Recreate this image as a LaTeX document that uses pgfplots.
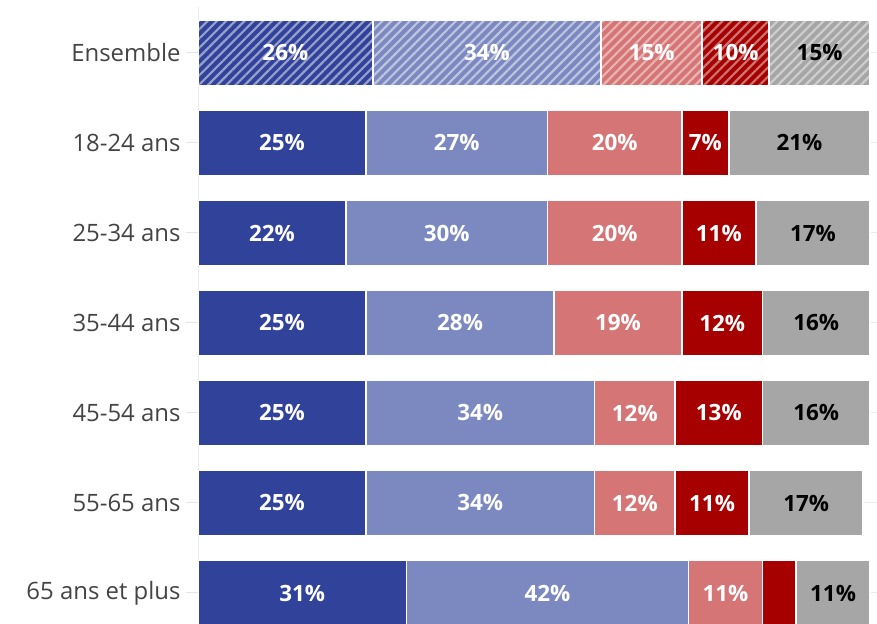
\documentclass[border=0pt]{standalone}
\usepackage{pgfplots}
\pgfplotsset{compat=1.18}
\usepackage{pgfplotstable}
\usetikzlibrary{patterns.meta}
\usepackage{fontspec}
\setmainfont{Open Sans}
\definecolor{cA}{HTML}{30429A}
\definecolor{cB}{HTML}{7C89C0}
\definecolor{cC}{HTML}{D57575}
\definecolor{cD}{HTML}{A60000}
\definecolor{cE}{HTML}{A6A6A6}
\definecolor{lab}{HTML}{444444}

\pgfplotstableread{
y a b c d e
5 25 27 20 7 21
4 22 30 20 11 17
3 25 28 19 12 16
2 25 34 12 13 16
1 25 34 12 11 17
0 31 42 11 5 11
}\ages
\pgfplotstableread{
y a b c d e
6 26 34 15 10 15
}\ens

\pgfplotsset{
  base/.style={
    xbar stacked, x=6.72bp, y=90bp,
    xmin=0, xmax=101.04, ymin=-0.344, ymax=6.511,
    bar width=65bp,
    point meta=explicit symbolic,
    nodes near coords={\ifdim\pgfplotspointmeta pt<6pt\else\pgfplotspointmeta\%\fi},
    every node near coord/.style={anchor=center, text=white,
      font=\bfseries\fontsize{22.5}{22.5}\selectfont},
  },
  seg/.style={fill=#1, draw=white, line width=1.6bp},
  hatch/.style={postaction={pattern={Lines[angle=45,distance=6.5bp,line width=2.2bp]}, pattern color=#1}},
}

\begin{document}
\begin{tikzpicture}
\begin{axis}[base, name=ax,
  axis x line=none, axis y line*=left,
  y axis line style={-, draw=black!8, line width=1bp},
  ytick={0,...,6},
  yticklabels={65 ans et plus,55-65 ans,45-54 ans,35-44 ans,25-34 ans,18-24 ans,Ensemble},
  yticklabel style={font=\fontsize{24}{24}\selectfont, text=lab, xshift=-2bp},
  ytick style={draw=black!10, line width=1bp},
  major tick length=12bp, tick align=outside,
  ymajorgrids, grid style={black!8, line width=1bp},
]
\addplot[seg=cA] table[x=a,y=y,meta=a]{\ages};
\addplot[seg=cB] table[x=b,y=y,meta=b]{\ages};
\addplot[seg=cC] table[x=c,y=y,meta=c]{\ages};
\addplot[seg=cD] table[x=d,y=y,meta=d]{\ages};
\addplot[seg=cE, every node near coord/.append style={text=black}] table[x=e,y=y,meta=e]{\ages};
\end{axis}
\begin{axis}[base, hide axis]
\addplot[seg=cA, hatch=white!50!cA] table[x=a,y=y,meta=a]{\ens};
\addplot[seg=cB, hatch=white!50!cB] table[x=b,y=y,meta=b]{\ens};
\addplot[seg=cC, hatch=white!45!cC] table[x=c,y=y,meta=c]{\ens};
\addplot[seg=cD, hatch=white!45!cD] table[x=d,y=y,meta=d]{\ens};
\addplot[seg=cE, hatch=white!45!cE, every node near coord/.append style={text=black}] table[x=e,y=y,meta=e]{\ens};
\end{axis}
\pgfresetboundingbox
\path ([xshift=-198bp]ax.south west) rectangle ([yshift=7bp]ax.north east);
\end{tikzpicture}
\end{document}
